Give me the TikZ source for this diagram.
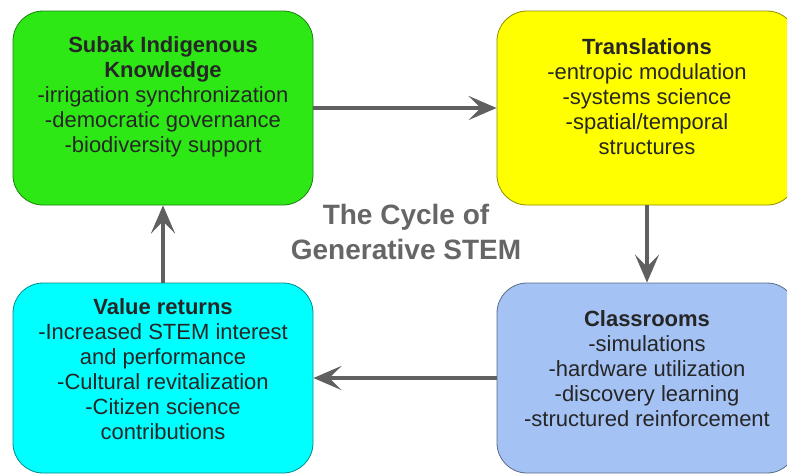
\documentclass[tikz,border=0pt]{standalone}
\usepackage{fontspec}
\setmainfont{Liberation Sans}
\usetikzlibrary{arrows.meta}
\definecolor{subakgreen}{RGB}{46,232,22}
\definecolor{transyellow}{RGB}{255,255,0}
\definecolor{valuecyan}{RGB}{0,255,255}
\definecolor{classblue}{RGB}{164,194,244}
\definecolor{flowgray}{RGB}{96,96,96}
\begin{document}
\begin{tikzpicture}[x=1pt,y=-1pt,
  box/.style={draw=#1!55!black,fill=#1,line width=0.8pt,rounded corners=30pt,
    minimum width=300pt,inner sep=0pt},
  boxtext/.style={align=center,text=black!85,font=\fontsize{22}{25}\selectfont},
  flow/.style={draw=flowgray,line width=4pt,-{Stealth[length=28pt,width=24pt,inset=12pt]}}]
\useasboundingbox (0,0) rectangle (787,475);
\clip (0,0) rectangle (787,475);
\node[box=subakgreen,minimum height=194pt] (subak) at (163,108) {};
\node[box=transyellow,minimum height=194pt] (trans) at (647,108) {};
\node[box=classblue,minimum height=190pt] (class) at (647,378) {};
\node[box=valuecyan,minimum height=190pt] (value) at (163,378) {};
\node[boxtext] (subaktext) at (163,97) {\textbf{Subak Indigenous}\\\textbf{Knowledge}\\
  -irrigation synchronization\\-democratic governance\\-biodiversity support};
\node[boxtext] (transtext) at (647,97) {\textbf{Translations}\\-entropic modulation\\
  -systems science\\-spatial/temporal\\structures};
\node[boxtext] (classtext) at (647,369) {\textbf{Classrooms}\\-simulations\\
  -hardware utilization\\-discovery learning\\-structured reinforcement};
\node[boxtext] (valuetext) at (163,369.5) {\textbf{Value returns}\\-Increased STEM interest\\
  and performance\\-Cultural revitalization\\-Citizen science\\contributions};
\node[align=center,text=black!60,font=\fontsize{28}{35}\selectfont\bfseries] (cycle)
  at (406,232) {The Cycle of\\Generative STEM};
\draw[flow] (subak) -- (trans);
\draw[flow] (trans) -- (class);
\draw[flow] (class) -- (value);
\draw[flow] (value) -- (subak);
\end{tikzpicture}
\end{document}
